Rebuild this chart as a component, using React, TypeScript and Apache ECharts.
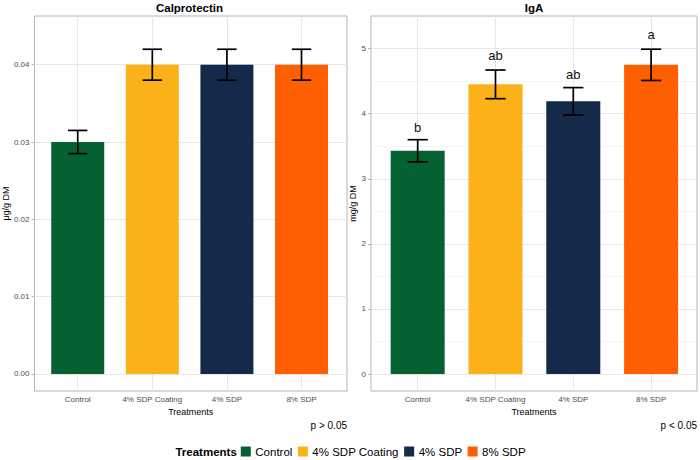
import React, { useEffect, useRef } from "react";
import * as echarts from "echarts";

// Treatment groups and their fill colours
const treatments = ["Control", "4% SDP Coating", "4% SDP", "8% SDP"];
const treatmentColors = ["#05612f", "#fbb118", "#15294a", "#ff5f00"];

// Calprotectin (µg/g DM): means and standard errors
const calproMeans = [0.03, 0.04, 0.04, 0.04];
const calproSE = [0.0015, 0.002, 0.002, 0.002];
const calproTicks = [0, 0.01, 0.02, 0.03, 0.04];
const calproMinorTicks = [0.005, 0.015, 0.025, 0.035, 0.045];

// IgA (mg/g DM): means, standard errors and significance letters
const igaMeans = [3.43, 4.45, 4.19, 4.75];
const igaSE = [0.17, 0.22, 0.21, 0.24];
const igaLetters = ["b", "ab", "ab", "a"];
const igaTicks = [0, 1, 2, 3, 4, 5];
const igaMinorTicks = [0.5, 1.5, 2.5, 3.5, 4.5];

const categoryPositions = [1, 2, 3, 4];

const FONT = "'Liberation Sans', Arial, Helvetica, sans-serif";
const GRID_MAJOR = "#e4e4e4";
const GRID_MINOR = "#f0f0f0";
const BORDER = "#b3b3b3";

function measure(text: string, font: string): number {
  const c = document.createElement("canvas").getContext("2d");
  if (!c) return text.length * 7;
  c.font = font;
  return c.measureText(text).width;
}

interface PanelSpec {
  title: string;
  yName: string;
  means: number[];
  se: number[];
  letters: string[] | null;
  ticks: number[];
  minorTicks: number[];
  decimals: number;
  xMin: number;
  xMax: number;
  yMin: number;
  yMax: number;
  grid: { left: number; top: number; width: number; height: number };
  barWidth: number;
  nameGap: number;
  pText: string;
}

const panels: PanelSpec[] = [
  {
    title: "Calprotectin",
    yName: "μg/g DM",
    means: calproMeans,
    se: calproSE,
    letters: null,
    ticks: calproTicks,
    minorTicks: calproMinorTicks,
    decimals: 2,
    xMin: 0.42,
    xMax: 4.61,
    yMin: -0.0022,
    yMax: 0.0463,
    grid: { left: 32, top: 16, width: 315, height: 375 },
    barWidth: 53,
    nameGap: 20,
    pText: "p > 0.05",
  },
  {
    title: "IgA",
    yName: "mg/g DM",
    means: igaMeans,
    se: igaSE,
    letters: igaLetters,
    ticks: igaTicks,
    minorTicks: igaMinorTicks,
    decimals: 0,
    xMin: 0.4,
    xMax: 4.59,
    yMin: -0.26,
    yMax: 5.5,
    grid: { left: 371, top: 16, width: 326, height: 375 },
    barWidth: 54,
    nameGap: 10,
    pText: "p < 0.05",
  },
];

function buildOption() {
  const grids: any[] = [];
  const xAxes: any[] = [];
  const yAxes: any[] = [];
  const series: any[] = [];
  const graphics: any[] = [];

  panels.forEach((p, i) => {
    grids.push({
      ...p.grid,
      show: true,
      borderColor: BORDER,
      borderWidth: 1,
      backgroundColor: "transparent",
      containLabel: false,
    });

    xAxes.push({
      type: "value",
      gridIndex: i,
      min: p.xMin,
      max: p.xMax,
      axisLine: { show: false },
      splitLine: { show: false },
      axisTick: {
        show: true,
        customValues: categoryPositions,
        length: 3,
        lineStyle: { color: BORDER, width: 1 },
      },
      axisLabel: {
        customValues: categoryPositions,
        formatter: (v: number) => treatments[Math.round(v) - 1] ?? "",
        fontSize: 8,
        fontFamily: FONT,
        color: "#4d4d4d",
        margin: 4,
      },
      name: "Treatments",
      nameLocation: "middle",
      nameGap: 11,
      nameTextStyle: { fontSize: 9, fontFamily: FONT, color: "#000", verticalAlign: "top" },
    });

    yAxes.push({
      type: "value",
      gridIndex: i,
      min: p.yMin,
      max: p.yMax,
      axisLine: { show: false },
      splitLine: { show: false },
      axisTick: {
        show: true,
        customValues: p.ticks,
        length: 3,
        lineStyle: { color: BORDER, width: 1 },
      },
      axisLabel: {
        customValues: p.ticks,
        formatter: (v: number) => v.toFixed(p.decimals),
        fontSize: 8,
        fontFamily: FONT,
        color: "#4d4d4d",
        margin: 5,
      },
      name: p.yName,
      nameLocation: "middle",
      nameRotate: 90,
      nameGap: p.nameGap,
      nameTextStyle: { fontSize: 9, fontFamily: FONT, color: "#000" },
    });

    const gridLines = [
      ...p.minorTicks.map((v) => ({ yAxis: v, lineStyle: { color: GRID_MINOR, width: 0.6, type: "solid" } })),
      ...p.ticks.map((v) => ({ yAxis: v, lineStyle: { color: GRID_MAJOR, width: 0.9, type: "solid" } })),
      ...categoryPositions.map((v) => ({ xAxis: v, lineStyle: { color: GRID_MAJOR, width: 0.9, type: "solid" } })),
    ];

    series.push({
      type: "bar",
      xAxisIndex: i,
      yAxisIndex: i,
      barWidth: p.barWidth,
      z: 2,
      data: p.means.map((v, k) => [categoryPositions[k], v]),
      itemStyle: { color: (d: any) => treatmentColors[d.dataIndex] },
      markLine: {
        silent: true,
        z: 1,
        symbol: "none",
        animation: false,
        label: { show: false },
        emphasis: { disabled: true },
        data: gridLines,
      },
    });

    const letters = p.letters;
    series.push({
      type: "custom",
      xAxisIndex: i,
      yAxisIndex: i,
      z: 3,
      silent: true,
      data: p.means.map((v, k) => [categoryPositions[k], v - p.se[k], v + p.se[k]]),
      renderItem: (params: any, api: any) => {
        const x = api.value(0);
        const lo = api.value(1);
        const hi = api.value(2);
        const a = api.coord([x, lo]);
        const b = api.coord([x, hi]);
        const half = api.size([0.26, 0])[0] / 2;
        const style = { stroke: "#000", lineWidth: 1.7 };
        const children: any[] = [
          { type: "line", shape: { x1: a[0], y1: a[1], x2: b[0], y2: b[1] }, style },
          { type: "line", shape: { x1: a[0] - half, y1: a[1], x2: a[0] + half, y2: a[1] }, style },
          { type: "line", shape: { x1: b[0] - half, y1: b[1], x2: b[0] + half, y2: b[1] }, style },
        ];
        if (letters) {
          const t = api.coord([x, hi * 1.03]);
          children.push({
            type: "text",
            x: t[0],
            y: t[1] - 5,
            style: {
              text: letters[params.dataIndex],
              fill: "#111",
              fontSize: 13,
              fontFamily: FONT,
              align: "center",
              verticalAlign: "middle",
            },
          });
        }
        return { type: "group", children };
      },
    });

    // Panel title and p-value note
    const cx = p.grid.left + p.grid.width / 2;
    graphics.push({
      type: "text",
      x: cx,
      y: 7.5,
      style: {
        text: p.title,
        fill: "#000",
        font: `bold 11.5px ${FONT}`,
        align: "center",
        verticalAlign: "middle",
      },
    });
    graphics.push({
      type: "text",
      x: p.grid.left + p.grid.width,
      y: 425.5,
      style: {
        text: p.pText,
        fill: "#000",
        font: `10px ${FONT}`,
        align: "right",
        verticalAlign: "middle",
      },
    });
  });

  // Bottom legend, centred on the page
  const titleFont = `bold 11.5px ${FONT}`;
  const itemFont = `11.5px ${FONT}`;
  const box = 10;
  const titleW = measure("Treatments", titleFont);
  const itemWs = treatments.map((t) => measure(t, itemFont));
  const total = titleW + 4 + itemWs.reduce((s, w) => s + box + 4.5 + w, 0) + 5.5 * (treatments.length - 1);
  let lx = 350.5 - total / 2;
  const ly = 451.5;
  graphics.push({
    type: "text",
    x: lx,
    y: ly,
    style: { text: "Treatments", fill: "#000", font: titleFont, align: "left", verticalAlign: "middle" },
  });
  lx += titleW + 4;
  treatments.forEach((t, k) => {
    graphics.push({
      type: "rect",
      shape: { x: lx, y: ly - box / 2, width: box, height: box },
      style: { fill: treatmentColors[k] },
    });
    lx += box + 4.5;
    graphics.push({
      type: "text",
      x: lx,
      y: ly,
      style: { text: t, fill: "#000", font: itemFont, align: "left", verticalAlign: "middle" },
    });
    lx += itemWs[k] + 5.5;
  });

  return {
    animation: false,
    backgroundColor: "#ffffff",
    textStyle: { fontFamily: FONT },
    grid: grids,
    xAxis: xAxes,
    yAxis: yAxes,
    series,
    graphic: graphics,
  };
}

export default function App() {
  const ref = useRef<HTMLDivElement>(null);
  useEffect(() => {
    if (!ref.current) return;
    const chart = echarts.init(ref.current, undefined, { renderer: "svg" });
    chart.setOption(buildOption() as any);
    return () => chart.dispose();
  }, []);
  return (
    <div
      ref={ref}
      style={{ position: "fixed", left: 0, top: 0, width: 700, height: 460, background: "#fff" }}
    />
  );
}
